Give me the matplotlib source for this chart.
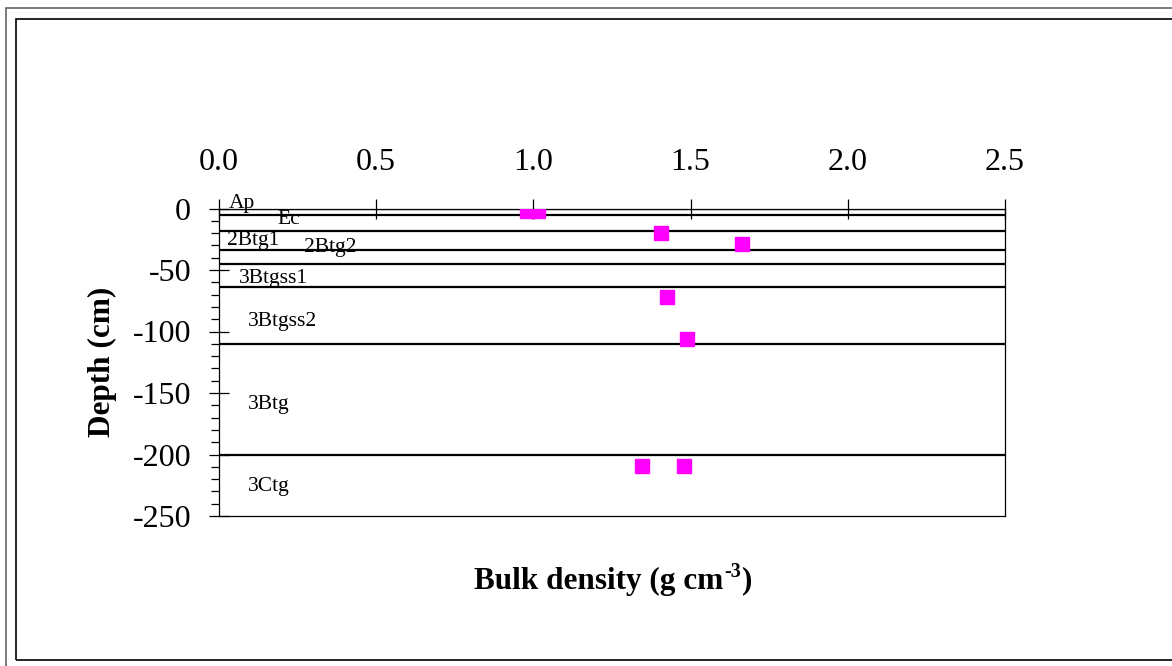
import numpy as np
import matplotlib
matplotlib.use('Agg')
import matplotlib.pyplot as plt
from matplotlib.patches import Rectangle
from matplotlib.ticker import MultipleLocator

plt.rcParams['font.family'] = ['Liberation Serif', 'DejaVu Serif']
plt.rcParams['axes.unicode_minus'] = False

# measured bulk density (g cm-3) vs sample depth (cm)
bulk_density = [0.98, 1.015, 1.405, 1.665, 1.425, 1.49, 1.345, 1.48]
depth = [-2, -2, -20, -29, -72, -106.5, -209, -209]

# soil horizons and their lower boundaries (cm)
horizons = ['Ap', 'Ec', '2Btg1', '2Btg2', '3Btgss1', '3Btgss2', '3Btg', '3Ctg']
boundaries = [-5, -18, -34, -45, -64, -110, -200]

# where the horizon names sit (x in g cm-3, y in cm)
label_x = [0.03, 0.185, 0.025, 0.27, 0.064, 0.092, 0.092, 0.092]
label_y = [4, -9, -26, -32, -57, -92, -159, -226]

W, H = 1172, 666
fig = plt.figure(figsize=(W / 100, H / 100), dpi=100, facecolor='white')

# page frame lines
fig.patches.append(Rectangle((6 / W, -0.1), 1.2, 1 - 8 / H + 0.1, transform=fig.transFigure,
                             fill=False, edgecolor='#666666', linewidth=1.2))
fig.patches.append(Rectangle((16 / W, 1 - 660 / H), 1.2, (660 - 19) / H, transform=fig.transFigure,
                             fill=False, edgecolor='black', linewidth=1.2))

ax = fig.add_axes([219 / W, 1 - 516 / H, (1005 - 219) / W, (516 - 208.5) / H])
ax.set_xlim(0, 2.5)
ax.set_ylim(-250, 0)

for b in boundaries:
    ax.axhline(b, color='black', linewidth=1.6, zorder=2)
ax.axhline(0, color='black', linewidth=1.6, zorder=2)

ax.plot(bulk_density, depth, linestyle='none', marker='s', markersize=10,
        color='#ff00ff', markeredgecolor='#ff00ff', zorder=3)

for name, x, y in zip(horizons, label_x, label_y):
    ax.text(x, y, name, fontsize=15.5, ha='left', va='center', zorder=4)

ax.xaxis.tick_top()
ax.set_xticks(np.arange(0, 2.51, 0.5))
ax.set_xticklabels(['%.1f' % v for v in np.arange(0, 2.51, 0.5)])
ax.set_yticks(np.arange(-250, 1, 50))
ax.yaxis.set_minor_locator(MultipleLocator(10))
ax.tick_params(axis='x', which='major', direction='inout', length=14, width=0.9,
               labelsize=23, pad=16)
ax.tick_params(axis='y', which='major', direction='inout', length=14, width=0.9,
               labelsize=23, pad=13)
ax.tick_params(axis='y', which='minor', direction='out', length=6, width=0.9)
for s in ax.spines.values():
    s.set_linewidth(0.9)

# x label, superscript written with a plain hyphen like the original
t1 = fig.text(474 / W, 1 - 581 / H, 'Bulk density (g cm', fontsize=22.5, fontweight='bold',
              ha='left', va='center')
t2 = ax.annotate('-3', xy=(1, 1), xycoords=t1, xytext=(0.5, 3), textcoords='offset points',
                 fontsize=14.5, fontweight='bold', ha='left', va='top')
ax.annotate(')', xy=(1, 0), xycoords=(t2, t1), xytext=(0.5, 0), textcoords='offset points',
            fontsize=22.5, fontweight='bold', ha='left', va='bottom')

ax.text(-0.148, 0.5, 'Depth (cm)', transform=ax.transAxes, rotation=90,
        ha='center', va='center', fontsize=22.5, fontweight='bold')

fig.savefig('out.png', dpi=100)
